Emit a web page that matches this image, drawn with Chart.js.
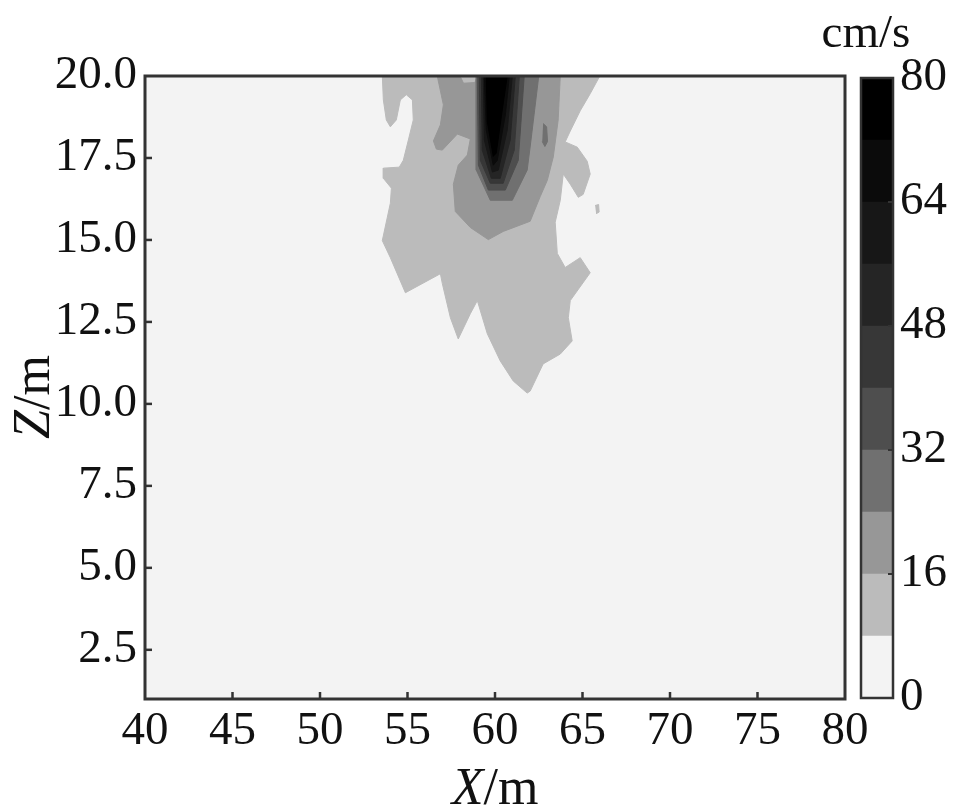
<!DOCTYPE html>
<html><head><meta charset="utf-8">
<script src="https://cdn.jsdelivr.net/npm/chart.js@4.4.0/dist/chart.umd.min.js"></script>
<style>
html,body{margin:0;padding:0;background:#fff;}
#wrap{position:relative;width:965px;height:810px;}
#main{position:absolute;left:0;top:0;}
#bar{position:absolute;left:800px;top:0;}
</style></head><body>
<div id="wrap">
<canvas id="main" width="965" height="810" style="width:965px;height:810px"></canvas>
<canvas id="bar" width="165" height="810" style="width:165px;height:810px"></canvas>
</div>
<script>
// ---------- data ----------
const X_TICKS = [40,45,50,55,60,65,70,75,80];
const Z_TICKS = [2.5,5,7.5,10,12.5,15,17.5,20];
const CBAR_TICKS = [0,16,32,48,64,80];
const LEVELS = [0,8,16,24,32,40,48,56,64,72,80];          // cm/s contour levels
const BAND_COLORS = ['#f3f3f3','#bbbbbb','#979797','#707070','#4e4e4e','#373737','#252525','#171717','#0b0b0b','#000000'];

// contour polygons [X (m), Z (m)] for velocity >= level
const contour8 = [[53.56,20],[53.62,19.27],[53.79,18.66],[54.02,18.45],[54.36,18.66],[54.59,19.27],[54.93,19.43],[55.28,19.27],[55.33,18.66],[55.05,18.05],[54.76,17.43],[54.53,17.22],[53.62,17.19],[53.62,16.88],[54.08,16.58],[54.02,16.12],[53.56,14.98],[54.02,14.46],[54.88,13.39],[56.88,13.97],[56.99,13.67],[57.45,12.63],[57.90,11.98],[58.59,12.75],[58.99,13.15],[59.56,12.14],[60.30,11.31],[61.04,10.70],[61.84,10.33],[62.01,10.39],[62.75,11.22],[63.73,11.52],[64.41,11.92],[64.19,12.63],[64.30,13.15],[65.44,14.00],[64.87,14.46],[64.01,14.16],[63.56,14.59],[63.44,15.54],[63.73,16.21],[63.90,17.01],[64.30,16.70],[64.76,16.30],[65.04,16.39],[65.44,17.01],[65.27,17.40],[64.70,17.83],[64.01,17.99],[64.30,18.32],[64.87,18.94],[65.44,19.46],[65.99,20]];
const contour8dot = [[65.72,16.05],[65.92,16.08],[65.95,15.85],[65.78,15.80]];
const contour16 = [[56.70,20],[57.05,19.12],[56.88,18.51],[56.48,18.02],[56.65,17.77],[56.99,17.74],[57.85,18.23],[58.59,18.08],[58.42,17.59],[57.90,17.28],[57.62,16.70],[57.73,15.87],[58.59,15.38],[59.62,15.01],[60.47,15.26],[62.01,15.57],[62.59,16.33],[62.99,16.82],[63.33,17.53],[63.61,18.66],[63.73,20],[59.00,20],[58.85,19.80],[58.20,19.78],[58.00,20]];
const contour24 = [[58.93,20],[58.93,17.13],[59.73,16.21],[60.99,16.21],[61.84,17.13],[62.05,18.02],[62.50,20]];
const contour24dot = [[62.75,18.55],[62.95,18.45],[63.00,18.00],[62.85,17.85],[62.70,18.00]];
const contour32 = [[58.99,20],[59.05,17.28],[59.62,16.52],[60.59,16.52],[61.33,17.43],[61.67,20]];
const contour40 = [[59.10,20],[59.16,17.43],[59.73,16.73],[60.47,16.73],[61.10,17.74],[61.39,20]];
const contour48 = [[59.22,20],[59.27,17.74],[59.79,16.88],[60.30,16.88],[60.87,18.05],[61.16,20]];
const contour56 = [[59.33,20],[59.39,18.05],[59.85,17.07],[60.19,17.13],[60.70,18.35],[60.99,20]];
const contour64 = [[59.39,20],[59.50,18.35],[59.90,17.28],[60.13,17.43],[60.59,18.81],[60.82,20]];
const contour72 = [[59.50,20],[59.56,18.61],[59.90,17.55],[60.07,17.65],[60.47,19.17],[60.70,20]];

const CONTOURS = [
  {level:8, pts:contour8},{level:8, pts:contour8dot},
  {level:16, pts:contour16},
  {level:24, pts:contour24},{level:24, pts:contour24dot},
  {level:32, pts:contour32},{level:40, pts:contour40},{level:48, pts:contour48},
  {level:56, pts:contour56},{level:64, pts:contour64},{level:72, pts:contour72}
];

// ---------- style ----------
const FONT = '"Liberation Serif","Times New Roman",serif';
const TXT = '#111111';
const FRAME = '#333333';
const colorFor = lvl => BAND_COLORS[LEVELS.indexOf(lvl)];

const datasets = CONTOURS.map(c => ({
  data: c.pts.map(([x,y]) => ({x, y})),
  showLine: true,
  fill: 'shape',
  backgroundColor: colorFor(c.level),
  borderColor: colorFor(c.level),
  borderWidth: 1,
  pointRadius: 0,
  tension: 0,
  order: 100 - c.level
}));

function line(ctx,x1,y1,x2,y2){ctx.beginPath();ctx.moveTo(x1,y1);ctx.lineTo(x2,y2);ctx.stroke();}

function mixedText(ctx, parts, cx, cy, size){
  let total = 0;
  const widths = parts.map(([t,it]) => { ctx.font = (it?'italic ':'') + size + 'px ' + FONT; const w = ctx.measureText(t).width; total += w; return w; });
  let x = cx - total/2;
  parts.forEach(([t,it],i) => { ctx.font = (it?'italic ':'') + size + 'px ' + FONT; ctx.fillText(t, x, cy); x += widths[i]; });
}

const framePlugin = {
  id: 'frame',
  beforeDraw(chart){
    const {ctx, chartArea:a} = chart;
    ctx.save(); ctx.fillStyle = BAND_COLORS[0];
    ctx.fillRect(a.left, a.top, a.right-a.left, a.bottom-a.top); ctx.restore();
  },
  afterDraw(chart){
    const {ctx, chartArea:a, scales:{x, y}} = chart;
    ctx.save();
    ctx.strokeStyle = FRAME; ctx.lineWidth = 2.5;
    X_TICKS.slice(1,-1).forEach(v => { const px = x.getPixelForValue(v); line(ctx, px, a.bottom, px, a.bottom-7); });
    Z_TICKS.filter(v => v < 20).forEach(v => { const py = y.getPixelForValue(v); line(ctx, a.left, py, a.left+7, py); });
    ctx.lineWidth = 3;
    ctx.strokeRect(a.left, a.top, a.right-a.left, a.bottom-a.top);
    ctx.fillStyle = TXT; ctx.textAlign = 'left'; ctx.textBaseline = 'alphabetic';
    mixedText(ctx, [['X',true],['/m',false]], (a.left+a.right)/2, 804, 52);
    ctx.save(); ctx.translate(49, 397); ctx.rotate(-Math.PI/2);
    mixedText(ctx, [['Z',true],['/m',false]], 0, 0, 52);
    ctx.restore();
    ctx.font = '47px ' + FONT;
    ctx.textAlign = 'center';
    ctx.fillText('cm/s', 866, 47);
    ctx.restore();
  }
};

new Chart(document.getElementById('main'), {
  type: 'scatter',
  data: { datasets },
  options: {
    responsive: false, animation: false, events: [],
    layout: { padding: { top: 76, right: 120, left: 0, bottom: 0 } },
    plugins: { legend: {display:false}, tooltip: {enabled:false} },
    scales: {
      x: {
        type: 'linear', min: 40, max: 80,
        afterBuildTicks: s => { s.ticks = X_TICKS.map(v => ({value:v})); },
        afterFit: s => { s.height = 111; },
        grid: {display:false, drawTicks:false}, border: {display:false},
        ticks: { color: TXT, font: {family: FONT, size: 47}, padding: 4, maxRotation: 0, autoSkip: false, callback: v => String(v) }
      },
      y: {
        type: 'linear', min: 1, max: 20,
        afterBuildTicks: s => { s.ticks = Z_TICKS.map(v => ({value:v})); },
        afterFit: s => { s.width = 145; },
        grid: {display:false, drawTicks:false}, border: {display:false},
        ticks: { color: TXT, font: {family: FONT, size: 47}, padding: 8, autoSkip: false, callback: v => Number(v).toFixed(1) }
      }
    }
  },
  plugins: [framePlugin]
});

// ---------- colour bar ----------
const barPlugin = {
  id: 'cbarFrame',
  afterDraw(chart){
    const {ctx, chartArea:a, scales:{y}} = chart;
    ctx.save(); ctx.strokeStyle = FRAME;
    ctx.lineWidth = 2;
    CBAR_TICKS.slice(1,-1).forEach(v => { const py = y.getPixelForValue(v); line(ctx, a.right, py, a.right-5, py); });
    ctx.lineWidth = 2.5;
    ctx.strokeRect(a.left, a.top, a.right-a.left, a.bottom-a.top);
    ctx.restore();
  }
};
new Chart(document.getElementById('bar'), {
  type: 'bar',
  data: {
    labels: ['cm/s'],
    datasets: BAND_COLORS.map((c,i) => ({ data: [LEVELS[i+1]-LEVELS[i]], backgroundColor: c, borderWidth: 0, barPercentage: 1, categoryPercentage: 1 }))
  },
  options: {
    responsive: false, animation: false, events: [],
    layout: { padding: { top: 78, bottom: 112, left: 61, right: 0 } },
    plugins: { legend: {display:false}, tooltip: {enabled:false} },
    scales: {
      x: { stacked: true, display: false },
      y: {
        stacked: true, position: 'right', min: 0, max: 80,
        afterBuildTicks: s => { s.ticks = CBAR_TICKS.map(v => ({value:v})); },
        afterFit: s => { s.width = 72; },
        grid: {display:false, drawTicks:false}, border: {display:false},
        ticks: { color: TXT, font: {family: FONT, size: 47}, padding: 7, autoSkip: false }
      }
    }
  },
  plugins: [barPlugin]
});
</script>
</body></html>
